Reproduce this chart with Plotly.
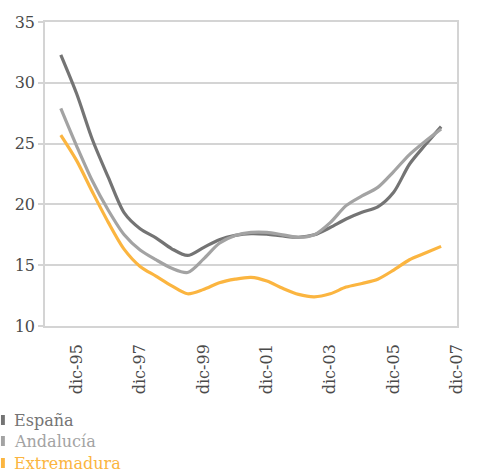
import plotly.graph_objects as go

# ---- data (semi-annual) ----
fechas = ["1995-06-01", "1995-12-01", "1996-06-01", "1996-12-01", "1997-06-01",
          "1997-12-01", "1998-06-01", "1998-12-01", "1999-06-01", "1999-12-01",
          "2000-06-01", "2000-12-01", "2001-06-01", "2001-12-01", "2002-06-01",
          "2002-12-01", "2003-06-01", "2003-12-01", "2004-06-01", "2004-12-01",
          "2005-06-01", "2005-12-01", "2006-06-01", "2006-12-01", "2007-06-01"]
espana = [32.3, 29.1, 25.3, 22.2, 19.3, 18.0, 17.25, 16.35, 15.8, 16.45,
          17.1, 17.45, 17.6, 17.55, 17.4, 17.3, 17.5, 18.1, 18.8, 19.35,
          19.8, 21.0, 23.3, 24.9, 26.4]
andalucia = [27.9, 24.8, 21.9, 19.5, 17.5, 16.25, 15.45, 14.75, 14.4, 15.5,
             16.8, 17.45, 17.7, 17.7, 17.5, 17.3, 17.5, 18.5, 19.9, 20.7,
             21.4, 22.7, 24.1, 25.2, 26.2]
extremadura = [25.7, 23.6, 21.0, 18.5, 16.3, 14.9, 14.1, 13.3, 12.65, 13.0,
               13.55, 13.85, 14.0, 13.7, 13.1, 12.6, 12.4, 12.65, 13.2, 13.5,
               13.85, 14.6, 15.45, 16.0, 16.55]

series_names = ["España", "Andalucía", "Extremadura"]
series_values = [espana, andalucia, extremadura]
series_colors = ["#747474", "#a3a3a3", "#fbb540"]

tick_vals = ["1995-12-01", "1997-12-01", "1999-12-01", "2001-12-01",
             "2003-12-01", "2005-12-01", "2007-12-01"]
tick_text = ["dic-95", "dic-97", "dic-99", "dic-01", "dic-03", "dic-05", "dic-07"]
y_ticks = [10, 15, 20, 25, 30, 35]

# ---- layout geometry ----
W, H = 477, 474
ML, MR, MT, MB = 45, 11, 22, 148
PW, PH = W - ML - MR, H - MT - MB

def px_x(p):
    return (p - ML) / PW

def px_y(p):
    return (H - MB - p) / PH

FONT = "DejaVu Serif"

fig = go.Figure()
for name, vals, col in zip(series_names, series_values, series_colors):
    fig.add_trace(go.Scatter(x=fechas, y=vals, name=name, mode="lines",
                             line=dict(color=col, width=3.2, shape="spline", smoothing=0.8),
                             showlegend=False))

grid = "#d4d4d4"
fig.update_layout(
    width=W, height=H,
    margin=dict(l=ML, r=MR, t=MT, b=MB),
    paper_bgcolor="white", plot_bgcolor="white",
    font=dict(family=FONT, size=16, color="#4a4a4a"),
    xaxis=dict(type="date", range=["1994-12-01", "2007-12-01"],
               tickmode="array", tickvals=tick_vals, ticktext=tick_text,
               tickangle=-90, showgrid=False, showline=True, linecolor=grid,
               linewidth=1.5, mirror=True, ticks="", ticklabelstandoff=10,
               zeroline=False),
    yaxis=dict(range=[10, 35], tickmode="array", tickvals=y_ticks,
               showgrid=True, gridcolor=grid, gridwidth=1.5,
               showline=True, linecolor=grid, linewidth=1.5, mirror=True,
               ticks="outside", ticklen=5, tickcolor=grid, tickwidth=1.5,
               zeroline=False),
)

# ---- legend (coloured text with small bars) ----
rows_px = [420, 441, 463]
for name, col, rp in zip(series_names, series_colors, rows_px):
    fig.add_annotation(xref="paper", yref="paper", x=px_x(11), y=px_y(rp),
                       xanchor="left", yanchor="middle", showarrow=False,
                       text=name, font=dict(family=FONT, size=16, color=col))
    fig.add_shape(type="rect", xref="paper", yref="paper",
                  x0=px_x(0), x1=px_x(4), y0=px_y(rp - 5), y1=px_y(rp + 5),
                  fillcolor=col, line=dict(width=0))

fig.write_html("out.html", config={"displayModeBar": False},
               post_script="document.body.style.margin='0';document.body.style.overflow='hidden';")
